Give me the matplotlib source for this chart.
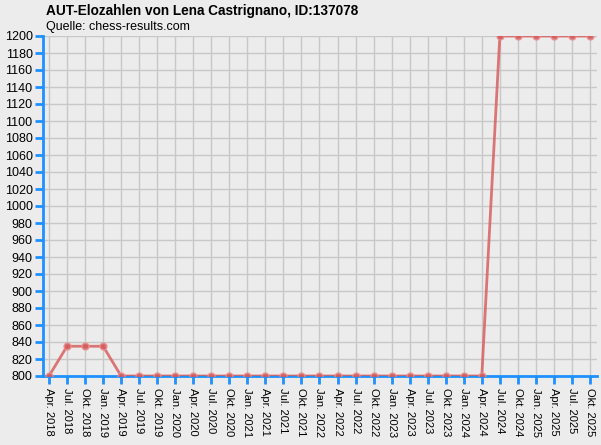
import matplotlib
matplotlib.use("Agg")
import matplotlib.pyplot as plt

plt.rcParams['font.family'] = ['Liberation Sans', 'DejaVu Sans']

labels = ["Apr. 2018", "Jul. 2018", "Okt. 2018", "Jan. 2019",
          "Apr. 2019", "Jul. 2019", "Okt. 2019", "Jan. 2020",
          "Apr. 2020", "Jul. 2020", "Okt. 2020", "Jan. 2021",
          "Apr. 2021", "Jul. 2021", "Okt. 2021", "Jan. 2022",
          "Apr. 2022", "Jul. 2022", "Okt. 2022", "Jan. 2023",
          "Apr. 2023", "Jul. 2023", "Okt. 2023", "Jan. 2024",
          "Apr. 2024", "Jul. 2024", "Okt. 2024", "Jan. 2025",
          "Apr. 2025", "Jul. 2025", "Okt. 2025"]
elo = [800, 835, 835, 835,
       800, 800, 800, 800,
       800, 800, 800, 800,
       800, 800, 800, 800,
       800, 800, 800, 800,
       800, 800, 800, 800,
       800, 1200, 1200, 1200,
       1200, 1200, 1200]
yticks = list(range(800, 1201, 20))

bg = "#ececec"
blue = "#1e90ff"
fig = plt.figure(figsize=(6.01, 4.45), dpi=100, facecolor=bg)
ax = fig.add_axes([43/601, 1-376/445, (597-43)/601, (376-36)/445])
ax.set_facecolor(bg)
x = list(range(len(labels)))
ax.plot(x, elo, color="#d96060", lw=2, alpha=0.85, marker="o", ms=5,
        markerfacecolor="#d65a5a", markeredgecolor="#e89090", markeredgewidth=1,
        zorder=3)
ax.set_xlim(-6/18.03, len(labels) - 1 + 7/18.03)
ax.set_ylim(800, 1200)
ax.set_yticks(yticks)
ax.set_xticks(x)
ax.set_xticklabels(labels, rotation=270, fontsize=8)
ax.tick_params(axis="y", labelsize=9, color=blue, length=6, width=2, pad=1.5)
ax.tick_params(axis="x", color=blue, length=6, width=2, pad=3)
ax.grid(True, color="#c8c8c8", lw=1)
ax.set_axisbelow(True)
for s in ["top", "right"]:
    ax.spines[s].set_visible(False)
for s in ["left", "bottom"]:
    ax.spines[s].set_color(blue)
    ax.spines[s].set_linewidth(2)
fig.text(46/601, 1-11/445, "AUT-Elozahlen von Lena Castrignano, ID:137078",
         fontsize=9.8, fontweight="bold", va="center", ha="left")
fig.text(46/601, 1-27/445, "Quelle: chess-results.com",
         fontsize=9, va="center", ha="left")
fig.savefig("out.png", dpi=100, facecolor=bg)
